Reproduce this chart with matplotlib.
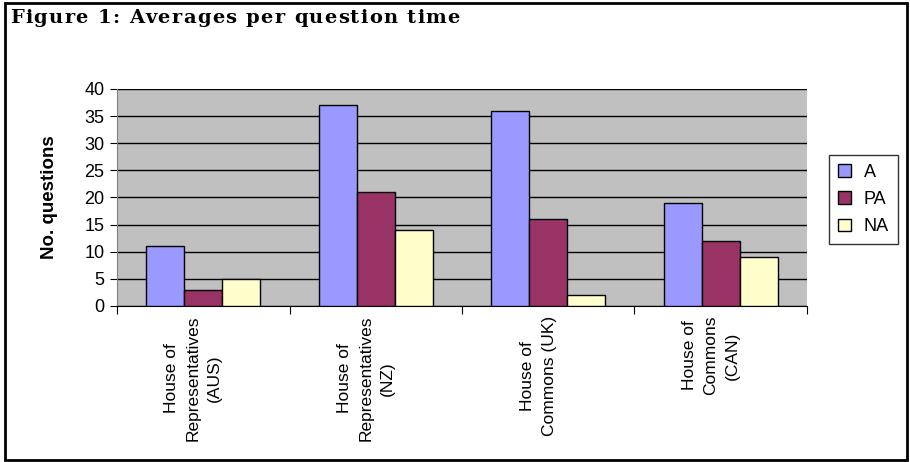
import numpy as np
import matplotlib.pyplot as plt
import matplotlib.transforms as mtransforms
from matplotlib.patches import Rectangle

categories = ['House of\nRepresentatives\n(AUS)', 'House of\nRepresentatives\n(NZ)',
              'House of\nCommons (UK)', 'House of\nCommons\n(CAN)']
series = ['A', 'PA', 'NA']
vals_a = [11, 37, 36, 19]
vals_pa = [3, 21, 16, 12]
vals_na = [5, 14, 2, 9]
colors = ['#9999FF', '#993366', '#FFFFCC']
title = 'Figure 1: Averages per question time'

plt.rcParams['font.family'] = ['Liberation Sans', 'DejaVu Sans']

fig = plt.figure(figsize=(9.1, 4.62), dpi=100)
ax = fig.add_axes([0.1286, 0.3377, 0.8868 - 0.1286, 0.8074 - 0.3377])
ax.set_facecolor('#C0C0C0')

x = np.arange(len(categories))
w = 0.22
for i, (vals, c, s) in enumerate(zip([vals_a, vals_pa, vals_na], colors, series)):
    ax.bar(x + (i - 1) * w, vals, width=w, color=c, edgecolor='black', linewidth=1, label=s, zorder=3)

ax.set_xlim(-0.5, len(categories) - 0.5)
ax.set_ylim(0, 40)
ax.set_yticks(range(0, 41, 5))
ax.tick_params(axis='y', labelsize=13, length=5, direction='out', pad=4)
ax.yaxis.grid(True, color='black', linewidth=1, zorder=0)
ax.set_axisbelow(True)

# ticks at category boundaries, labels at centres
ax.set_xticks(np.arange(-0.5, len(categories)))
ax.set_xticklabels([])
ax.tick_params(axis='x', length=6, direction='out')
ax.set_xticks(x, minor=True)
ax.set_xticklabels(categories, minor=True, rotation=90, fontsize=12.5,
                   va='top', ha='center', multialignment='center', linespacing=1.55)
ax.tick_params(axis='x', which='minor', length=0, pad=7)
shift = mtransforms.ScaledTranslation(-10 / 100, 0, fig.dpi_scale_trans)
for lbl in ax.get_xticklabels(minor=True):
    lbl.set_transform(lbl.get_transform() + shift)

for sp in ['top', 'right']:
    ax.spines[sp].set_visible(False)
ax.spines['left'].set_color('#808080')
ax.spines['bottom'].set_color('black')

ax.set_ylabel('No. questions', fontsize=13.5, fontweight='bold', labelpad=19)

leg = fig.legend(loc='upper left', bbox_to_anchor=(0.911, 0.6645), borderaxespad=0,
                 fontsize=13, frameon=True, fancybox=False, edgecolor='black',
                 handlelength=0.72, handleheight=0.72, handletextpad=0.7,
                 labelspacing=0.56, borderpad=0.5)
leg.get_frame().set_linewidth(1)

# title with wide letter spacing
renderer = fig.canvas.get_renderer()
xpos = 10
for ch in title:
    t = fig.text(xpos / 910, 1 - 18 / 462, ch if ch != ' ' else '\u00a0', family='DejaVu Serif',
                 fontsize=14, fontweight='bold', va='center', ha='left')
    xpos += t.get_window_extent(renderer).width + 1.3

fig.patches.append(Rectangle((0.005, 0.004), 0.992, 0.99, transform=fig.transFigure,
                             fill=False, edgecolor='black', linewidth=2))

fig.savefig('out.png', dpi=100)
